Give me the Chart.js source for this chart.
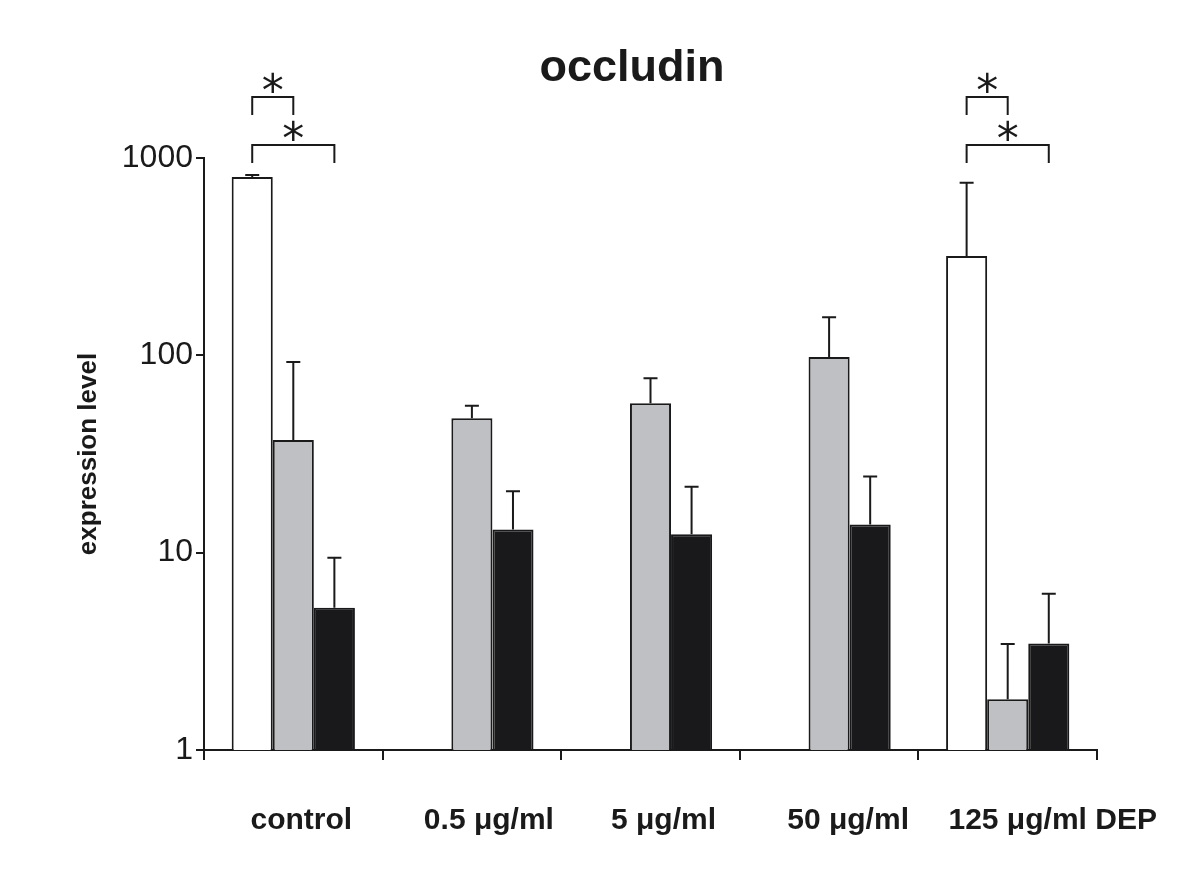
<!DOCTYPE html>
<html>
<head>
<meta charset="utf-8">
<script src="https://cdn.jsdelivr.net/npm/chart.js@4.4.1/dist/chart.umd.min.js"></script>
<style>
  html, body { margin: 0; padding: 0; background: #ffffff; }
  #wrap { width: 1200px; height: 870px; }
</style>
</head>
<body>
<div id="wrap"><canvas id="c" width="1200" height="870"></canvas></div>
<script>
// ---- data ----
const categories = ['control', '0.5 \u03bcg/ml', '5 \u03bcg/ml', '50 \u03bcg/ml', '125 \u03bcg/ml DEP'];
const whiteValues = [800, null, null, null, 319];
const whiteErrUpper = [820, null, null, null, 750];
const grayValues = [37.2, 48, 57.1, 98, 1.81];
const grayErrUpper = [92.4, 55.6, 76.6, 156, 3.44];
const blackValues = [5.26, 13.1, 12.4, 13.9, 3.47];
const blackErrUpper = [9.43, 20.5, 21.6, 24.3, 6.2];
const yTickValues = [1, 10, 100, 1000];
const chartTitle = 'occludin';
const yAxisTitle = 'expression level';
// significance brackets: category index, from dataset, to dataset, level (y value), label
const brackets = [
  { cat: 0, from: 0, to: 1, level: 2040, label: '*' },
  { cat: 0, from: 0, to: 2, level: 1165, label: '*' },
  { cat: 4, from: 0, to: 1, level: 2040, label: '*' },
  { cat: 4, from: 0, to: 2, level: 1165, label: '*' }
];

// ---- style ----
const labelShift = [8, 17, 13, 19, 45];
const errData = [whiteErrUpper, grayErrUpper, blackErrUpper];

const overlay = {
  id: 'overlay',
  afterDatasetsDraw(chart) {
    const ctx = chart.ctx;
    const y = chart.scales.y;
    const x = chart.scales.x;
    ctx.save();
    ctx.strokeStyle = '#1a1a1a';
    ctx.lineWidth = 2;
    // error bars
    errData.forEach((errs, di) => {
      const meta = chart.getDatasetMeta(di);
      meta.data.forEach((bar, i) => {
        const v = chart.data.datasets[di].data[i];
        if (v == null || errs[i] == null) return;
        const yTop = y.getPixelForValue(errs[i]);
        const yBar = y.getPixelForValue(v);
        ctx.beginPath();
        ctx.moveTo(bar.x, yBar);
        ctx.lineTo(bar.x, yTop);
        ctx.moveTo(bar.x - 7, yTop);
        ctx.lineTo(bar.x + 7, yTop);
        ctx.stroke();
      });
    });
    // brackets
    brackets.forEach(b => {
      const x1 = chart.getDatasetMeta(b.from).data[b.cat].x;
      const x2 = chart.getDatasetMeta(b.to).data[b.cat].x;
      const yy = y.getPixelForValue(b.level);
      ctx.beginPath();
      ctx.moveTo(x1, yy + 18);
      ctx.lineTo(x1, yy);
      ctx.lineTo(x2, yy);
      ctx.lineTo(x2, yy + 18);
      ctx.stroke();
      ctx.fillStyle = '#1a1a1a';
      ctx.font = '44px "DejaVu Sans", sans-serif';
      ctx.textAlign = 'center';
      ctx.textBaseline = 'alphabetic';
      ctx.fillText(b.label, (x1 + x2) / 2, yy + 9);
    });
    // category labels
    ctx.fillStyle = '#1a1a1a';
    ctx.font = 'bold 30px "Liberation Sans", Arial, sans-serif';
    ctx.textAlign = 'center';
    ctx.textBaseline = 'middle';
    categories.forEach((c, i) => {
      ctx.fillText(c, x.getPixelForValue(i) + labelShift[i], 821);
    });
    // title
    ctx.font = 'bold 45px "Liberation Sans", Arial, sans-serif';
    ctx.textBaseline = 'alphabetic';
    ctx.fillText(chartTitle, 632, 81);
    ctx.restore();
  }
};

new Chart(document.getElementById('c'), {
  type: 'bar',
  data: {
    labels: categories,
    datasets: [
      { data: whiteValues, backgroundColor: '#ffffff', borderColor: '#1a1a1a', borderWidth: 2 },
      { data: grayValues, backgroundColor: '#bfc0c4', borderColor: '#1a1a1a', borderWidth: 2 },
      { data: blackValues, backgroundColor: '#19191b', borderColor: '#19191b', borderWidth: 2 }
    ]
  },
  options: {
    responsive: false,
    animation: false,
    devicePixelRatio: 1,
    layout: { padding: { left: 73, right: 103, top: 158, bottom: 0 } },
    datasets: { bar: { categoryPercentage: 0.69, barPercentage: 1.0 } },
    plugins: {
      legend: { display: false },
      title: { display: false },
      tooltip: { enabled: false }
    },
    scales: {
      x: {
        grid: { offset: true, drawOnChartArea: false, drawTicks: true, tickLength: 10, color: '#1a1a1a', lineWidth: 2 },
        border: { display: true, color: '#1a1a1a', width: 2 },
        ticks: { display: false },
        afterFit(scale) { scale.height = 120; }
      },
      y: {
        type: 'logarithmic',
        min: 1,
        max: 1000,
        afterBuildTicks(scale) { scale.ticks = yTickValues.map(v => ({ value: v })); },
        grid: { drawOnChartArea: false, drawTicks: true, tickLength: 8, color: '#1a1a1a', lineWidth: 2 },
        border: { display: true, color: '#1a1a1a', width: 2 },
        ticks: {
          color: '#1a1a1a',
          padding: 3,
          font: { family: '"Liberation Sans", Arial, sans-serif', size: 32 },
          callback: (v) => String(v)
        },
        title: {
          display: true,
          text: yAxisTitle,
          color: '#1a1a1a',
          padding: { top: 0, bottom: 0 },
          font: { family: '"Liberation Sans", Arial, sans-serif', size: 26, weight: 'bold' }
        },
        afterFit(scale) { scale.width = 131; }
      }
    }
  },
  plugins: [overlay]
});
</script>
</body>
</html>
